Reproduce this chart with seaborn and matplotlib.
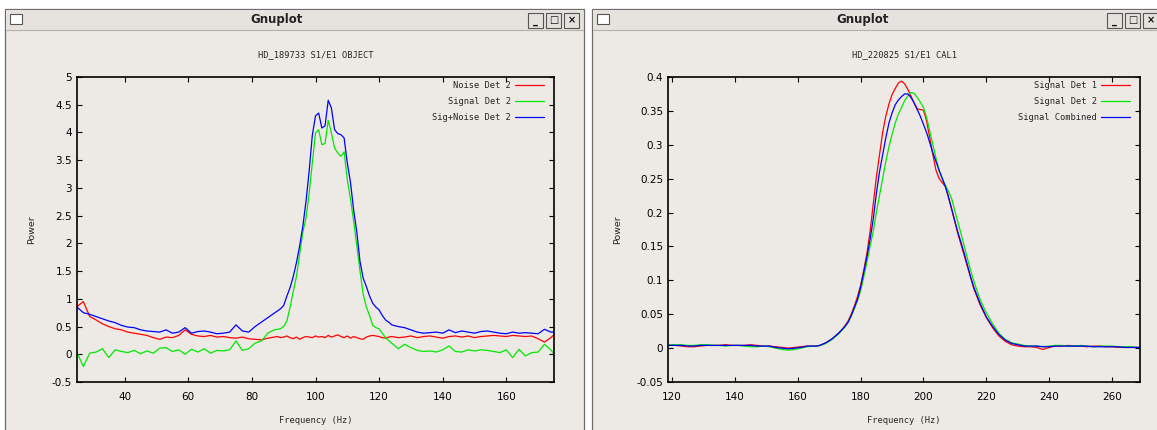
# Two gnuplot windows: power spectra of HD_189733 (object) and HD_220825 (calibrator)

import numpy as np
import pandas as pd
import matplotlib
matplotlib.use("Agg")
import matplotlib.pyplot as plt
from matplotlib.patches import Rectangle
from matplotlib.ticker import MultipleLocator, FuncFormatter
import seaborn as sns

# ---- left window: HD_189733 S1/E1 OBJECT ----
freq_left = np.r_[np.arange(25, 88, 2), np.arange(88, 125), np.arange(126, 175, 2), 175]

noise_det2 = [
    0.86, 0.95, 0.68, 0.62, 0.55, 0.50, 0.46, 0.44, 0.40, 0.38,
    0.36, 0.34, 0.30, 0.27, 0.31, 0.30, 0.34, 0.44, 0.36, 0.33,
    0.32, 0.34, 0.31, 0.32, 0.30, 0.29, 0.31, 0.28, 0.27, 0.26,
    0.29, 0.31,
    0.32, 0.30, 0.31, 0.33, 0.30, 0.28, 0.31, 0.27, 0.30, 0.32,
    0.31, 0.30, 0.33, 0.31, 0.32, 0.30, 0.34, 0.31, 0.33, 0.35,
    0.32, 0.30, 0.33, 0.29, 0.32, 0.30, 0.28, 0.27, 0.31, 0.33,
    0.34, 0.33, 0.32, 0.30, 0.29, 0.31, 0.32,
    0.30, 0.31, 0.33, 0.30, 0.32, 0.33, 0.31, 0.29, 0.32, 0.33,
    0.31, 0.33, 0.30, 0.32, 0.33, 0.34, 0.33, 0.32, 0.34, 0.33,
    0.32, 0.33, 0.28, 0.22, 0.30, 0.35,
]
signal_det2 = [
    0.03, -0.22, 0.02, 0.04, 0.10, -0.06, 0.08, 0.05, 0.03, 0.07,
    0.01, 0.06, 0.02, 0.11, 0.12, 0.05, 0.08, 0.00, 0.09, 0.04,
    0.10, 0.02, 0.07, 0.06, 0.08, 0.24, 0.07, 0.10, 0.20, 0.24,
    0.38, 0.44,
    0.45, 0.46, 0.50, 0.60, 0.85, 1.13, 1.40, 1.80, 2.20, 2.45,
    2.90, 3.45, 3.99, 4.05, 3.78, 3.80, 4.22, 3.99, 3.72, 3.63,
    3.57, 3.65, 3.15, 2.80, 2.40, 1.95, 1.50, 1.08, 0.85, 0.70,
    0.52, 0.48, 0.46, 0.38, 0.30, 0.25, 0.20,
    0.10, 0.18, 0.12, 0.07, 0.05, 0.06, 0.04, 0.08, 0.15, 0.05,
    0.04, 0.08, 0.06, 0.08, 0.07, 0.05, 0.03, 0.08, -0.06, 0.09,
    -0.03, 0.03, 0.04, 0.18, 0.08, 0.01,
]
signoise_det2 = [
    0.85, 0.75, 0.72, 0.68, 0.64, 0.60, 0.57, 0.52, 0.49, 0.48,
    0.44, 0.42, 0.41, 0.40, 0.44, 0.38, 0.40, 0.48, 0.38, 0.41,
    0.42, 0.40, 0.37, 0.38, 0.40, 0.53, 0.42, 0.40, 0.50, 0.58,
    0.66, 0.74,
    0.78, 0.82, 0.88, 1.05, 1.20, 1.40, 1.65, 1.95, 2.30, 2.75,
    3.30, 3.95, 4.30, 4.35, 4.08, 4.12, 4.58, 4.44, 4.05, 3.98,
    3.96, 3.90, 3.45, 3.10, 2.60, 2.20, 1.67, 1.37, 1.22, 1.05,
    0.92, 0.85, 0.80, 0.70, 0.62, 0.58, 0.53,
    0.50, 0.48, 0.44, 0.40, 0.38, 0.39, 0.40, 0.38, 0.44, 0.39,
    0.42, 0.40, 0.38, 0.41, 0.42, 0.40, 0.38, 0.37, 0.40, 0.38,
    0.39, 0.38, 0.37, 0.45, 0.40, 0.40,
]
labels_left = ["Noise Det 2", "Signal Det 2", "Sig+Noise Det 2"]

# ---- right window: HD_220825 S1/E1 CAL1 ----
freq_right = np.r_[np.arange(119, 166, 2), np.arange(166, 217), np.arange(218, 269, 2), 269]

signal_det1 = [
    0.004, 0.004, 0.003, 0.002, 0.002, 0.003, 0.004, 0.004, 0.004, 0.005,
    0.004, 0.004, 0.004, 0.005, 0.004, 0.003, 0.003, 0.002, 0.001, 0.000,
    0.001, 0.002, 0.003, 0.003,
    0.003, 0.004, 0.006, 0.008, 0.011, 0.014, 0.018, 0.022, 0.027, 0.033,
    0.040, 0.050, 0.062, 0.076, 0.093, 0.115, 0.140, 0.172, 0.212, 0.252,
    0.285, 0.318, 0.342, 0.360, 0.374, 0.383, 0.391, 0.394, 0.390, 0.382,
    0.372, 0.362, 0.353, 0.352, 0.351, 0.335, 0.310, 0.285, 0.262, 0.250,
    0.244, 0.238, 0.222, 0.204, 0.186, 0.168, 0.152, 0.136, 0.120, 0.104,
    0.088,
    0.064, 0.045, 0.030, 0.018, 0.010, 0.005, 0.003, 0.002, 0.002, 0.001,
    -0.002, 0.001, 0.003, 0.003, 0.004, 0.003, 0.003, 0.002, 0.003, 0.003,
    0.002, 0.002, 0.001, 0.001, 0.001, 0.001, 0.001,
]
signal_det2_cal = [
    0.005, 0.005, 0.005, 0.004, 0.004, 0.005, 0.005, 0.004, 0.004, 0.003,
    0.004, 0.004, 0.003, 0.002, 0.002, 0.003, 0.002, 0.000, -0.002, -0.003,
    -0.002, 0.000, 0.002, 0.003,
    0.003, 0.004, 0.005, 0.007, 0.010, 0.013, 0.017, 0.021, 0.026, 0.031,
    0.038, 0.047, 0.058, 0.070, 0.085, 0.105, 0.127, 0.150, 0.172, 0.200,
    0.225, 0.250, 0.275, 0.297, 0.315, 0.332, 0.345, 0.355, 0.365, 0.372,
    0.377, 0.376, 0.370, 0.363, 0.355, 0.340, 0.320, 0.300, 0.280, 0.262,
    0.250, 0.240, 0.231, 0.220, 0.202, 0.185, 0.168, 0.150, 0.132, 0.115,
    0.099,
    0.072, 0.052, 0.036, 0.022, 0.013, 0.008, 0.006, 0.004, 0.003, 0.003,
    0.002, 0.003, 0.004, 0.004, 0.003, 0.003, 0.004, 0.003, 0.002, 0.003,
    0.003, 0.003, 0.002, 0.002, 0.002, 0.001, 0.001,
]
signal_combined = [
    0.004, 0.004, 0.004, 0.003, 0.003, 0.004, 0.004, 0.004, 0.004, 0.004,
    0.004, 0.004, 0.004, 0.004, 0.003, 0.003, 0.003, 0.001, 0.000, -0.001,
    0.000, 0.001, 0.003, 0.003,
    0.003, 0.004, 0.006, 0.008, 0.011, 0.014, 0.018, 0.022, 0.027, 0.032,
    0.038, 0.048, 0.060, 0.072, 0.090, 0.112, 0.135, 0.160, 0.190, 0.228,
    0.260, 0.285, 0.310, 0.332, 0.347, 0.359, 0.366, 0.371, 0.375, 0.375,
    0.370, 0.362, 0.352, 0.342, 0.330, 0.318, 0.303, 0.288, 0.275, 0.262,
    0.250, 0.238, 0.222, 0.205, 0.187, 0.170, 0.155, 0.139, 0.122, 0.105,
    0.090,
    0.066, 0.046, 0.032, 0.020, 0.012, 0.007, 0.005, 0.003, 0.003, 0.003,
    0.002, 0.002, 0.003, 0.003, 0.003, 0.003, 0.003, 0.003, 0.002, 0.002,
    0.002, 0.002, 0.002, 0.001, 0.001, 0.001, 0.001,
]
labels_right = ["Signal Det 1", "Signal Det 2", "Signal Combined"]

colors = ["#ff0000", "#00e800", "#0000ff"]

W, H = 1157, 430
BG = "#edeae5"
MONO = "DejaVu Sans Mono"

sns.set_style("ticks")
plt.rcParams["font.family"] = ["DejaVu Sans"]


def long_df(freq, cols, names):
    parts = [pd.DataFrame({"freq": freq, "power": v, "series": n}) for v, n in zip(cols, names)]
    return pd.concat(parts, ignore_index=True)


def rect(fig, x0, y0, x1, y1, **kw):
    r = Rectangle((x0 / W, 1 - y1 / H), (x1 - x0) / W, (y1 - y0) / H,
                  transform=fig.transFigure, **kw)
    fig.add_artist(r)


def window(fig, x0, x1, title_x, bx):
    rect(fig, x0, 9, x1, 440, facecolor=BG, edgecolor="#6c6c6c", lw=0.9, zorder=-10)
    rect(fig, x0 + 1, 10, x1 - 1, 30, facecolor="#e6e3de", edgecolor="none", zorder=-9)
    fig.add_artist(plt.Line2D([(x0 + 1) / W, (x1 - 1) / W], [1 - 30 / H] * 2,
                              color="#b5b1aa", lw=0.8, zorder=-8))
    rect(fig, x0 + 5, 14, x0 + 17, 24, facecolor="white", edgecolor="#555555", lw=0.8, zorder=-8)
    fig.text(title_x / W, 1 - 20 / H, "Gnuplot", ha="center", va="center",
             fontsize=8.5, fontweight="bold", color="#222222")
    for i, glyph in enumerate(["_", "□", "×"]):
        rect(fig, bx + 18 * i, 13, bx + 18 * i + 15, 28, facecolor="#e4e2dd",
             edgecolor="#555555", lw=0.8, zorder=-8)
        fig.text((bx + 18 * i + 7.5) / W, 1 - 20.5 / H, glyph, ha="center", va="center",
                 fontsize=7, fontweight="bold", color="#111111")


def style(ax, title, xlim, ylim, xstep, ystep, ylab_x, width_px):
    ax.set_facecolor(BG)
    ax.set_xlim(*xlim)
    ax.set_ylim(*ylim)
    ax.xaxis.set_major_locator(MultipleLocator(xstep))
    ax.yaxis.set_major_locator(MultipleLocator(ystep))
    fmt = lambda v, _: ("%g" % round(v, 4)) if abs(v) > 1e-9 else "0"
    ax.yaxis.set_major_formatter(FuncFormatter(fmt))
    ax.tick_params(direction="in", length=3.6, width=0.8, top=True, right=True,
                   labelsize=7.5, colors="black")
    ax.tick_params(axis="x", pad=7)
    ax.tick_params(axis="y", pad=3.5)
    for s in ax.spines.values():
        s.set_linewidth(1.2)
        s.set_color("black")
    ax.set_title(title, fontfamily=MONO, fontsize=6.3, pad=14)
    ax.set_xlabel("Frequency (Hz)", fontfamily=MONO, fontsize=6.3)
    ax.set_ylabel("Power", fontsize=6.8)
    ax.xaxis.set_label_coords(0.5, -0.11)
    ax.yaxis.set_label_coords(ylab_x, 0.5)
    h, l = ax.get_legend_handles_labels()
    ax.legend(h, l, loc="upper right", bbox_to_anchor=(1 - 10 / width_px, 1 - 4 / 305),
              frameon=False, markerfirst=False, prop={"family": MONO, "size": 6.3},
              handlelength=3.3, handletextpad=0.45, labelspacing=0.78,
              borderpad=0, borderaxespad=0)


fig = plt.figure(figsize=(W / 100, H / 100), dpi=100)
fig.patch.set_facecolor("white")
window(fig, 5, 584, 277, 528)
window(fig, 592, 1175, 863, 1107)

ax1 = fig.add_axes([77 / W, 1 - 382 / H, 477 / W, 305 / H])
left = long_df(freq_left, [noise_det2, signal_det2, signoise_det2], labels_left)
sns.lineplot(data=left, x="freq", y="power", hue="series", hue_order=labels_left,
             palette=colors, linewidth=0.9, ax=ax1)
style(ax1, "HD_189733 S1/E1 OBJECT", (25, 175), (-0.5, 5), 20, 0.5, -0.086, 477)

ax2 = fig.add_axes([668 / W, 1 - 382 / H, 472 / W, 305 / H])
right = long_df(freq_right, [signal_det1, signal_det2_cal, signal_combined], labels_right)
sns.lineplot(data=right, x="freq", y="power", hue="series", hue_order=labels_right,
             palette=colors, linewidth=0.9, ax=ax2)
style(ax2, "HD_220825 S1/E1 CAL1", (118.7, 268.9), (-0.05, 0.4), 20, 0.05, -0.097, 472)

fig.savefig("out.png", dpi=100)
